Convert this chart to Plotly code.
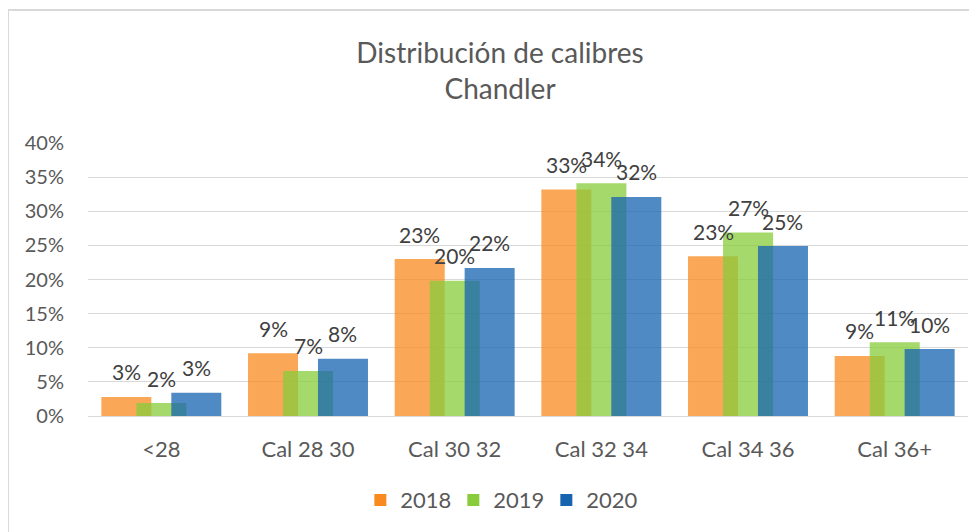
import plotly.graph_objects as go

categories = ["<28", "Cal 28 30", "Cal 30 32", "Cal 32 34", "Cal 34 36", "Cal 36+"]
years = ["2018", "2019", "2020"]
values_2018 = [0.028, 0.092, 0.230, 0.332, 0.234, 0.088]
values_2019 = [0.019, 0.066, 0.198, 0.341, 0.269, 0.108]
values_2020 = [0.034, 0.084, 0.217, 0.321, 0.249, 0.098]

series = [values_2018, values_2019, values_2020]
colors = ["rgb(248,138,32)", "rgb(136,204,59)", "rgb(22,99,176)"]
offsets = [-0.409, -0.170, 0.068]
bar_width = 0.341

FONT = "Lato"
GREY = "#595959"

L, R, T, B = 80, 17, 135, 124
W, H = 977, 532
px_per_cat = (W - L - R) / len(categories)

fig = go.Figure()
annotations = []
for name, vals, col, off in zip(years, series, colors, offsets):
    fig.add_trace(go.Bar(
        x=categories, y=vals, name=name,
        marker=dict(color=col, opacity=0.75, line=dict(width=0)),
        width=bar_width, offset=off,
    ))
    shift = (off + bar_width / 2) * px_per_cat
    for c, v in zip(categories, vals):
        annotations.append(dict(
            x=c, y=v, xref="x", yref="y", text=f"{v:.0%}", showarrow=False,
            xshift=shift, yshift=25, yanchor="middle", xanchor="center",
            font=dict(size=21, color="#404040", family=FONT),
        ))

fig.update_layout(
    width=W, height=H,
    barmode="overlay",
    paper_bgcolor="white", plot_bgcolor="white",
    margin=dict(l=L, r=R, t=T, b=B),
    font=dict(family=FONT, color=GREY),
    title=dict(
        text="Distribución de calibres<br>Chandler",
        x=0.5036, xanchor="center", y=0.897, yanchor="middle",
        font=dict(size=28, color=GREY, family=FONT),
    ),
    xaxis=dict(
        showgrid=False, showline=True, linecolor="#D9D9D9", linewidth=1,
        tickfont=dict(size=22, color=GREY),
        ticks="outside", ticklen=14, tickcolor="rgba(0,0,0,0)",
    ),
    yaxis=dict(
        range=[0, 0.40], dtick=0.05, tickformat=".0%",
        showgrid=True, gridcolor="#D9D9D9", gridwidth=1,
        zeroline=False,
        tickfont=dict(size=20, color=GREY),
        ticks="outside", ticklen=19, tickcolor="rgba(0,0,0,0)",
    ),
    legend=dict(
        orientation="h", x=0.468, xanchor="center", y=-0.308, yanchor="middle",
        font=dict(size=22, color=GREY), traceorder="normal",
        itemwidth=30, entrywidth=48,
    ),
    showlegend=True,
    annotations=annotations,
    shapes=[
        dict(type="line", xref="paper", yref="paper", x0=-0.0909, x1=1.2, y0=1.487, y1=1.487,
             line=dict(color="#D9D9D9", width=2)),
        dict(type="line", xref="paper", yref="paper", x0=-0.0909, x1=-0.0909, y0=-0.6, y1=1.487,
             line=dict(color="#D9D9D9", width=2)),
    ],
)

fig.write_html("out.html")
